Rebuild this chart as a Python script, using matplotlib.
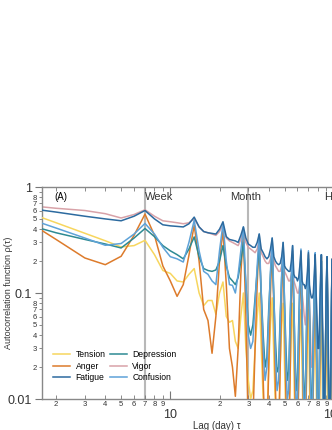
import matplotlib
matplotlib.use("Agg")
import matplotlib.pyplot as plt
import numpy as np
from matplotlib.ticker import LogLocator, FuncFormatter

plt.rcParams['font.family'] = ['Liberation Sans', 'DejaVu Sans']

# lag in days 1..100
lags = list(range(1, 101))

fatigue = [
    0.67, 0.58, 0.53, 0.50, 0.48, 0.53, 0.60,
    0.50, 0.44, 0.43, 0.425, 0.42, 0.45, 0.52,
    0.42, 0.38, 0.37, 0.365, 0.36, 0.40, 0.47,
    0.34, 0.32, 0.315, 0.31, 0.30, 0.35, 0.42,
    0.33, 0.29, 0.28, 0.27, 0.27, 0.30, 0.36,
    0.26, 0.24, 0.22, 0.21, 0.22, 0.26, 0.33,
    0.22, 0.20, 0.19, 0.185, 0.19, 0.22, 0.30,
    0.18, 0.17, 0.165, 0.16, 0.16, 0.20, 0.28,
    0.15, 0.14, 0.14, 0.13, 0.14, 0.18, 0.25,
    0.13, 0.12, 0.12, 0.11, 0.12, 0.16, 0.24,
    0.12, 0.10, 0.09, 0.09, 0.10, 0.15, 0.23,
    0.10, 0.06, 0.03, 0.03, 0.06, 0.14, 0.23,
    0.08, 0.03, 0.008, 0.008, 0.03, 0.12, 0.22,
    0.07, 0.02, 0.005, 0.005, 0.02, 0.11, 0.21,
    0.06, 0.02,
]
vigor = [
    0.70, 0.63, 0.60, 0.56, 0.51, 0.55, 0.61,
    0.53, 0.48, 0.47, 0.46, 0.45, 0.46, 0.50,
    0.42, 0.38, 0.37, 0.36, 0.35, 0.38, 0.44,
    0.33, 0.31, 0.30, 0.29, 0.28, 0.32, 0.38,
    0.30, 0.27, 0.26, 0.25, 0.24, 0.26, 0.32,
    0.24, 0.22, 0.20, 0.19, 0.19, 0.21, 0.27,
    0.20, 0.18, 0.17, 0.16, 0.16, 0.18, 0.24,
    0.16, 0.15, 0.14, 0.13, 0.13, 0.15, 0.21,
    0.13, 0.12, 0.11, 0.10, 0.10, 0.12, 0.18,
    0.10, 0.08, 0.06, 0.05, 0.07, 0.11, 0.17,
    0.08, 0.04, 0.02, 0.02, 0.05, 0.10, 0.16,
    0.06, 0.02, 0.006, 0.006, 0.03, 0.09, 0.15,
    0.05, 0.015, 0.004, 0.004, 0.02, 0.08, 0.14,
    0.04, 0.01, 0.004, 0.004, 0.015, 0.07, 0.13,
    0.04, 0.01,
]
anger = [
    0.63, 0.32, 0.214, 0.185, 0.222, 0.35, 0.555,
    0.35, 0.18, 0.13, 0.093, 0.12, 0.227, 0.437,
    0.20, 0.07, 0.055, 0.027, 0.06, 0.20, 0.39,
    0.12, 0.03, 0.02, 0.0106, 0.03, 0.15, 0.38,
    0.06, 0.005, 0.004, 0.006, 0.03, 0.12, 0.35,
    0.08, 0.015, 0.004, 0.004, 0.02, 0.10, 0.30,
    0.07, 0.012, 0.004, 0.004, 0.02, 0.09, 0.27,
    0.06, 0.01, 0.004, 0.004, 0.015, 0.08, 0.25,
    0.06, 0.01, 0.004, 0.004, 0.015, 0.08, 0.24,
    0.05, 0.01, 0.004, 0.004, 0.015, 0.07, 0.23,
    0.05, 0.01, 0.004, 0.004, 0.015, 0.07, 0.23,
    0.05, 0.01, 0.004, 0.004, 0.015, 0.07, 0.22,
    0.05, 0.01, 0.004, 0.004, 0.015, 0.07, 0.22,
    0.05, 0.01, 0.004, 0.004, 0.015, 0.07, 0.21,
    0.05, 0.01,
]
confusion = [
    0.59, 0.41, 0.33, 0.282, 0.293, 0.36, 0.453,
    0.36, 0.27, 0.22, 0.21, 0.196, 0.30, 0.486,
    0.25, 0.16, 0.15, 0.13, 0.12, 0.25, 0.45,
    0.20, 0.12, 0.118, 0.10, 0.15, 0.25, 0.42,
    0.12, 0.04, 0.03, 0.035, 0.08, 0.18, 0.36,
    0.10, 0.03, 0.015, 0.02, 0.06, 0.16, 0.33,
    0.09, 0.025, 0.012, 0.015, 0.05, 0.15, 0.30,
    0.08, 0.02, 0.01, 0.012, 0.05, 0.14, 0.28,
    0.08, 0.02, 0.008, 0.01, 0.04, 0.13, 0.26,
    0.07, 0.015, 0.006, 0.008, 0.04, 0.12, 0.25,
    0.07, 0.015, 0.005, 0.006, 0.035, 0.12, 0.24,
    0.06, 0.012, 0.004, 0.005, 0.03, 0.11, 0.23,
    0.06, 0.01, 0.004, 0.004, 0.03, 0.11, 0.22,
    0.05, 0.01, 0.004, 0.004, 0.025, 0.10, 0.21,
    0.05, 0.01,
]
depression = [
    0.50, 0.37, 0.32, 0.29, 0.266, 0.33, 0.406,
    0.34, 0.28, 0.25, 0.23, 0.21, 0.26, 0.338,
    0.22, 0.17, 0.163, 0.16, 0.165, 0.20, 0.28,
    0.18, 0.14, 0.13, 0.12, 0.14, 0.20, 0.30,
    0.12, 0.05, 0.04, 0.05, 0.09, 0.16, 0.28,
    0.10, 0.04, 0.02, 0.025, 0.07, 0.15, 0.26,
    0.09, 0.035, 0.018, 0.02, 0.06, 0.14, 0.24,
    0.08, 0.03, 0.015, 0.018, 0.05, 0.13, 0.23,
    0.08, 0.025, 0.012, 0.015, 0.05, 0.12, 0.22,
    0.07, 0.02, 0.01, 0.012, 0.04, 0.12, 0.21,
    0.07, 0.02, 0.008, 0.01, 0.04, 0.11, 0.20,
    0.06, 0.015, 0.006, 0.008, 0.035, 0.11, 0.20,
    0.06, 0.012, 0.005, 0.006, 0.03, 0.10, 0.19,
    0.05, 0.01, 0.004, 0.005, 0.03, 0.10, 0.18,
    0.05, 0.01,
]
tension = [
    0.676, 0.46, 0.366, 0.311, 0.272, 0.28, 0.314,
    0.23, 0.163, 0.153, 0.13, 0.127, 0.15, 0.17,
    0.10, 0.076, 0.085, 0.085, 0.063, 0.10, 0.127,
    0.06, 0.053, 0.055, 0.035, 0.03, 0.06, 0.10,
    0.03, 0.015, 0.01, 0.012, 0.03, 0.06, 0.10,
    0.03, 0.01, 0.005, 0.006, 0.02, 0.05, 0.09,
    0.025, 0.008, 0.004, 0.005, 0.02, 0.05, 0.08,
    0.02, 0.006, 0.004, 0.004, 0.015, 0.045, 0.08,
    0.02, 0.005, 0.004, 0.004, 0.015, 0.04, 0.07,
    0.02, 0.005, 0.004, 0.004, 0.012, 0.04, 0.07,
    0.015, 0.004, 0.004, 0.004, 0.012, 0.035, 0.065,
    0.015, 0.004, 0.004, 0.004, 0.01, 0.035, 0.06,
    0.015, 0.004, 0.004, 0.004, 0.01, 0.03, 0.06,
    0.012, 0.004, 0.004, 0.004, 0.01, 0.03, 0.055,
    0.012, 0.004,
]

series = [
    ("Tension", tension, "#f7d65e"),
    ("Anger", anger, "#dd7b2b"),
    ("Fatigue", fatigue, "#2c6a9f"),
    ("Depression", depression, "#2e8a93"),
    ("Vigor", vigor, "#d8a2a8"),
    ("Confusion", confusion, "#5ea2d8"),
]
draw_order = ["Vigor", "Tension", "Anger", "Depression", "Confusion", "Fatigue"]

markers = [(7, "Week"), (30, "Month"), (182, "Half year")]


def minor_label(v, pos, skip9=False):
    d = int(round(v / 10 ** np.floor(np.log10(v) + 1e-9)))
    if skip9 and d == 9:
        return ""
    return str(d)


def main():
    fig = plt.figure(figsize=(3.32, 4.30), dpi=100)
    ax = fig.add_axes([42 / 332, 1 - 399 / 430, 349 / 332, 212 / 430])
    ax.set_xscale("log")
    ax.set_yscale("log")

    for x, _ in markers:
        ax.axvline(x, color="#b8b8b8", lw=1.5, zorder=1)

    handles = {}
    for name, vals, col in series:
        z = 2 + draw_order.index(name)
        (ln,) = ax.plot(lags, vals, color=col, lw=1.1, label=name, zorder=z)
        handles[name] = ln

    ax.set_xlim(1.64, 224)
    ax.set_ylim(0.01, 1)

    ax.xaxis.set_major_locator(LogLocator(base=10, numticks=10))
    ax.xaxis.set_minor_locator(LogLocator(base=10, subs=np.arange(2, 10), numticks=20))
    ax.yaxis.set_major_locator(LogLocator(base=10, numticks=10))
    ax.yaxis.set_minor_locator(LogLocator(base=10, subs=np.arange(2, 10), numticks=20))
    ax.xaxis.set_major_formatter(FuncFormatter(lambda v, p: f"{v:g}"))
    ax.yaxis.set_major_formatter(FuncFormatter(lambda v, p: f"{v:g}"))
    ax.xaxis.set_minor_formatter(FuncFormatter(lambda v, p: minor_label(v, p)))
    ax.yaxis.set_minor_formatter(FuncFormatter(lambda v, p: minor_label(v, p, True)))

    ax.tick_params(axis="x", which="both", direction="in", top=True, colors="#777777",
                   labelcolor="#333333")
    ax.tick_params(axis="x", which="major", length=6, pad=7, labelsize=9)
    ax.tick_params(axis="x", which="minor", length=3, pad=1.5, labelsize=5.5)
    ax.tick_params(axis="y", which="both", direction="out", colors="#777777",
                   labelcolor="#333333")
    ax.tick_params(axis="y", which="major", length=5, pad=2, labelsize=9)
    ax.tick_params(axis="y", which="minor", length=2.5, pad=1, labelsize=5.5)

    for s in ["left", "bottom", "top"]:
        ax.spines[s].set_color("#888888")
        ax.spines[s].set_linewidth(1.0)
    ax.spines["right"].set_visible(False)

    # axes labels placed by hand (axes runs past the right edge of the figure)
    ax.set_xlabel("Lag (day) \u03c4", fontsize=7, color="#333333")
    ax.xaxis.set_label_coords(0.5, -27 / 212, transform=ax.transAxes)
    ax.set_ylabel("Autocorrelation function \u03c1(\u03c4)", fontsize=6.5, color="#333333")
    ax.yaxis.set_label_coords(-33 / 349, 0.5, transform=ax.transAxes)
    ax.xaxis.label.set_va("center")
    ax.yaxis.label.set_va("center")

    ax.text(0.035, 0.955, "(A)", transform=ax.transAxes, fontsize=7, va="center")
    ax.text(7, 0.80, "Week", fontsize=8, ha="left", va="center", color="#333333")
    ax.text(29, 0.80, "Month", fontsize=8, ha="center", va="center", color="#333333")
    ax.text(89, 0.80, "Half year", fontsize=8, ha="left", va="center", color="#333333")

    ax.legend([handles[n] for n, _, _ in series], [n for n, _, _ in series],
              ncol=2, loc="lower left", bbox_to_anchor=(0.01, 0.045), frameon=False,
              fontsize=6.2, handlelength=2.0, columnspacing=0.5, labelspacing=0.25,
              handletextpad=0.6)

    fig.savefig("out.png", dpi=100)


if __name__ == '__main__':
    main()
